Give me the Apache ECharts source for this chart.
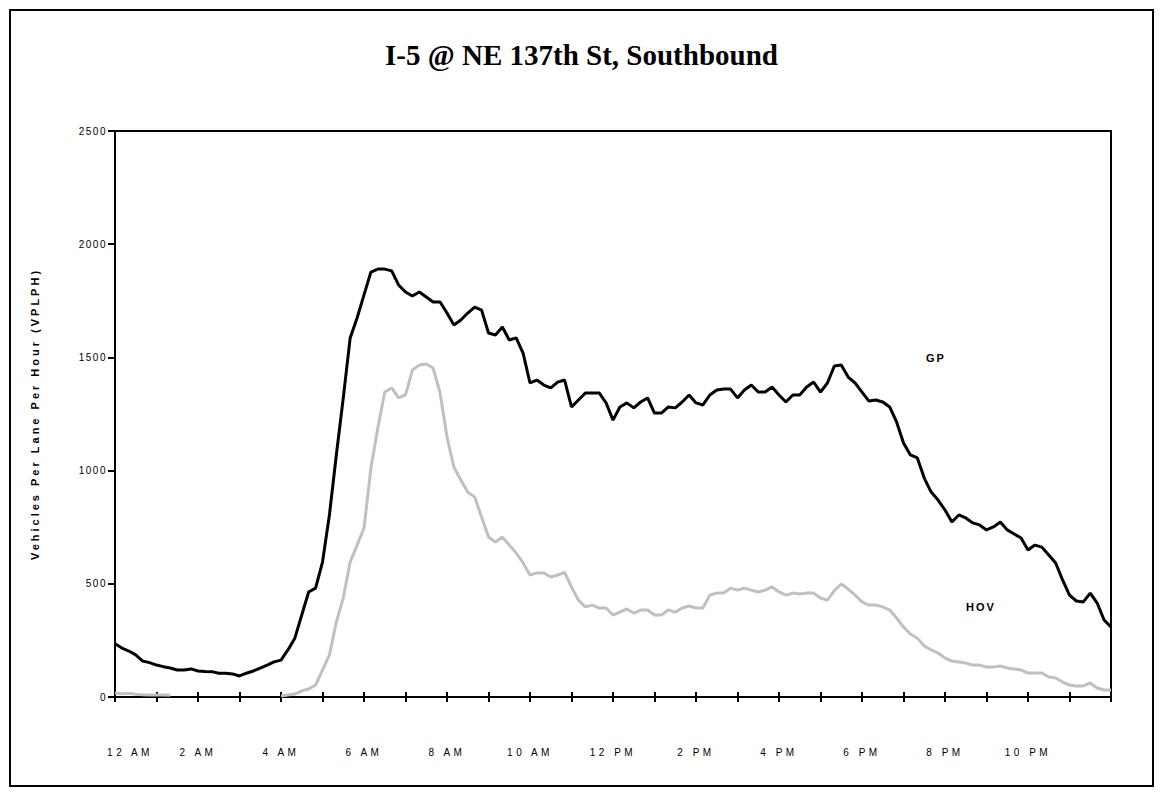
<!DOCTYPE html>
<html>
<head>
<meta charset="utf-8">
<script src="https://cdn.jsdelivr.net/npm/echarts@6/dist/echarts.min.js"></script>
<style>
html,body{margin:0;padding:0;background:#fff;}
#chart{width:1163px;height:797px;}
</style>
</head>
<body>
<div id="chart"></div>
<script>
// 10-minute time categories, 0:00 .. 24:00
const timeCategories = [];
for (let h = 0; h <= 24; h++) {
  for (let m = 0; m < 60; m += 10) {
    if (h === 24 && m > 0) break;
    timeCategories.push(h + ':' + (m === 0 ? '00' : m));
  }
}
const xTickLabels = ['12 AM','2 AM','4 AM','6 AM','8 AM','10 AM','12 PM','2 PM','4 PM','6 PM','8 PM','10 PM'];
const yTicks = [0, 500, 1000, 1500, 2000, 2500];
const yAxisTitle = 'Vehicles Per Lane Per Hour (VPLPH)';
const seriesLabels = ['GP', 'HOV'];

const gpValues = [
  235,216,203,186,159,152,
  141,134,128,119,119,124,
  115,113,112,105,105,102,
  93,105,115,128,141,155,
  163,208,260,362,464,481,
  596,804,1069,1320,1586,1674,
  1776,1877,1890,1890,1882,1820,
  1789,1771,1789,1767,1745,1745,
  1696,1643,1665,1696,1722,1709,
  1608,1599,1634,1577,1586,1519,
  1387,1400,1378,1365,1391,1400,
  1281,1312,1343,1343,1343,1299,
  1223,1281,1299,1277,1303,1321,
  1254,1254,1281,1277,1303,1334,
  1299,1290,1334,1356,1360,1360,
  1321,1356,1378,1347,1347,1369,
  1334,1303,1334,1334,1369,1391,
  1347,1387,1462,1466,1413,1387,
  1347,1307,1312,1303,1281,1215,
  1122,1069,1056,967,905,870,
  826,773,804,791,769,760,
  738,751,773,738,720,702,
  649,671,662,627,592,517,
  450,424,420,459,415,340,
  309
];

const hovValues = [
  18,14,16,12,10,9,
  9,9,8,null,null,null,
  null,null,null,null,null,null,
  null,null,null,null,null,null,
  4,9,13,27,35,53,
  119,186,331,437,596,671,
  746,1011,1188,1347,1365,1321,
  1334,1444,1466,1471,1453,1343,
  1148,1016,958,905,883,795,
  707,685,707,671,636,592,
  539,548,548,530,539,550,
  486,428,398,406,393,393,
  362,375,389,371,384,384,
  362,362,384,375,393,402,
  393,393,450,459,459,481,
  472,481,472,464,472,486,
  464,450,459,455,459,459,
  437,428,470,499,477,450,
  420,406,406,398,384,349,
  309,278,260,225,208,194,
  172,159,155,150,141,141,
  132,132,137,128,124,119,
  106,106,106,88,84,66,
  53,49,49,62,40,31,
  31
];

const chart = echarts.init(document.getElementById('chart'), null, {renderer: 'svg'});
const labelFont = '"Liberation Sans", Arial, sans-serif';

const option = {
  backgroundColor: '#fff',
  animation: false,
  title: {
    text: 'I-5 @ NE 137th St, Southbound',
    left: 'center',
    top: 35,
    textStyle: {
      fontFamily: '"Liberation Serif", "Times New Roman", serif',
      fontWeight: 'bold',
      fontSize: 29,
      color: '#000'
    }
  },
  graphic: [
    {type: 'rect', shape: {x: 10, y: 10, width: 1143, height: 776},
     style: {fill: 'none', stroke: '#000', lineWidth: 2}, silent: true},
    {type: 'text', left: 926, top: 352, silent: true,
     style: {text: seriesLabels[0], font: 'bold 11px ' + labelFont, fill: '#000'}},
    {type: 'text', left: 966, top: 601, silent: true,
     style: {text: seriesLabels[1], font: 'bold 11px ' + labelFont, fill: '#000'}}
  ],
  grid: {
    left: 115, right: 52, top: 131, bottom: 100,
    show: true, borderColor: '#000', borderWidth: 2, backgroundColor: 'transparent'
  },
  xAxis: [
    {
      type: 'category',
      data: timeCategories,
      boundaryGap: false,
      position: 'bottom',
      axisLine: {lineStyle: {color: '#000', width: 2}},
      axisTick: {show: true, inside: false, length: 5, interval: function (i) { return i % 6 === 0; },
                 lineStyle: {color: '#000', width: 2}},
      axisLabel: {
        interval: function (i) { return i % 12 === 0 && i < 144; },
        formatter: function (v, i) {
          const lbl = xTickLabels[i / 12];
          return i === 0 ? '{first|' + lbl + '}' : lbl;
        },
        rich: {first: {padding: [0, 0, 0, 30], fontSize: 10, fontFamily: labelFont, color: '#000'}},
        margin: 50,
        fontSize: 10,
        fontFamily: labelFont,
        color: '#000'
      },
      splitLine: {show: false}
    },
    {
      type: 'category',
      data: timeCategories,
      boundaryGap: false,
      position: 'bottom',
      axisLine: {show: false},
      axisTick: {show: true, inside: true, length: 5, interval: function (i) { return i % 6 === 0; },
                 lineStyle: {color: '#000', width: 2}},
      axisLabel: {show: false},
      splitLine: {show: false}
    }
  ],
  yAxis: {
    type: 'value',
    min: 0,
    max: 2500,
    interval: 500,
    name: yAxisTitle,
    nameLocation: 'middle',
    nameGap: 75,
    nameTextStyle: {fontFamily: labelFont, fontWeight: 'bold', fontSize: 11, color: '#000'},
    axisLine: {show: true, lineStyle: {color: '#000', width: 2}},
    axisTick: {show: true, length: 7, lineStyle: {color: '#000', width: 2}},
    axisLabel: {
      margin: 8,
      fontSize: 10,
      fontFamily: labelFont,
      color: '#000',
      formatter: function (v) { return yTicks.indexOf(v) >= 0 ? String(v) : ''; }
    },
    splitLine: {show: false}
  },
  series: [
    {
      name: 'GP',
      type: 'line',
      data: gpValues,
      showSymbol: false,
      symbol: 'none',
      lineStyle: {color: '#000', width: 3},
      z: 3
    },
    {
      name: 'HOV',
      type: 'line',
      data: hovValues,
      showSymbol: false,
      symbol: 'none',
      connectNulls: false,
      lineStyle: {color: '#c0c0c0', width: 3},
      z: 2
    }
  ]
};
chart.setOption(option);

// Letter spacing like the original's spaced-out sans labels
function applySpacing() {
  const yLabelSet = yTicks.map(String);
  document.querySelectorAll('#chart svg text').forEach(function (t) {
    const s = t.textContent.trim();
    if (xTickLabels.indexOf(s) >= 0) t.style.letterSpacing = '3.5px';
    else if (yLabelSet.indexOf(s) >= 0) t.style.letterSpacing = '1.5px';
    else if (s === yAxisTitle) t.style.letterSpacing = '3px';
    else if (seriesLabels.indexOf(s) >= 0) t.style.letterSpacing = '2px';
  });
}
applySpacing();
chart.on('finished', applySpacing);
setTimeout(applySpacing, 0);
setTimeout(applySpacing, 100);
</script>
</body>
</html>
